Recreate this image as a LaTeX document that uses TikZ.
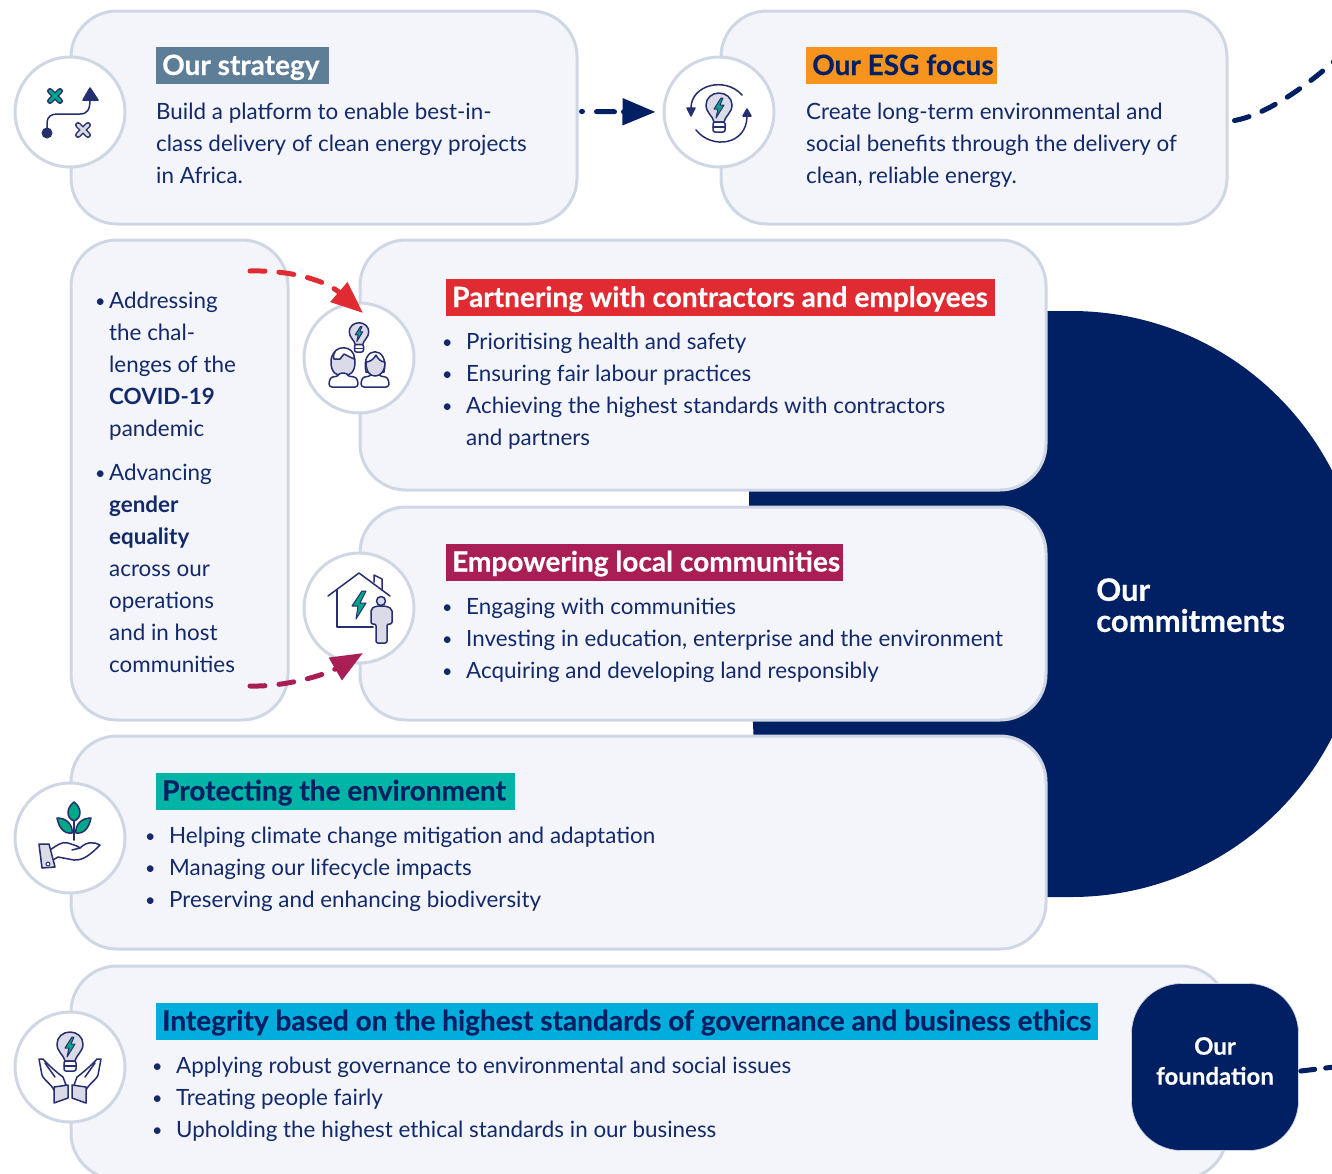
\documentclass[tikz,border=0pt]{standalone}
\usepackage{fontspec}
\setmainfont{Lato}
\newfontfamily\heavy[BoldFeatures={FakeBold=0.35}]{Lato}
\usetikzlibrary{arrows.meta}
\definecolor{navy}{HTML}{002063}
\definecolor{txtblue}{HTML}{12296B}
\definecolor{iconblue}{HTML}{252E6E}
\definecolor{edge}{HTML}{CFD6E4}
\definecolor{panel}{HTML}{F4F5FA}
\definecolor{igray}{HTML}{DADBE6}
\definecolor{igreen}{HTML}{00A887}
\definecolor{cslate}{HTML}{5E7D96}
\definecolor{corange}{HTML}{F7941D}
\definecolor{cred}{HTML}{E02B32}
\definecolor{cwine}{HTML}{A91E54}
\definecolor{cteal}{HTML}{00B5A5}
\definecolor{ccyan}{HTML}{00ADDC}
\newcommand{\bul}[1]{\makebox[#1][l]{\raisebox{1pt}{\scalebox{.8}{•}}}}
\tikzset{
  panelbox/.style={draw=edge,fill=panel,line width=3pt,rounded corners=46pt,inner sep=0pt},
  iconring/.style={circle,draw=edge,fill=white,line width=3pt,minimum size=110pt,inner sep=0pt},
  headbar/.style={anchor=west,inner ysep=0pt,inner xsep=6pt,minimum height=37pt,text height=24pt,text depth=5pt,font=\fontsize{28}{30}\heavy\bfseries\selectfont},
  body/.style={anchor=north west,inner sep=0pt,align=left,text=txtblue,font=\fontsize{22.4}{32}\selectfont,execute at begin node=\strut},
  iconline/.style={draw=iconblue,line width=1.5pt,line join=round,line cap=round},
  flow/.style={line width=5pt,line cap=round,dash pattern=on 15pt off 14pt},
  bulbicon/.pic={
    \path[iconline,fill=igray] (-5,14) .. controls (-6,8) and (-13,5) .. (-13,-3) .. controls (-13,-10) and (-7,-15) .. (0,-15) .. controls (7,-15) and (13,-10) .. (13,-3) .. controls (13,5) and (6,8) .. (5,14) -- cycle;
    \path[iconline,fill=white,rounded corners=2pt] (-6,14) rectangle (6,24);
    \path[iconline] (-6,19) -- (6,19);
    \path[iconline,line width=1pt,fill=igreen] (2,-10) -- (-5,1) -- (-1,1) -- (-3,10) -- (5,-3) -- (1,-3) -- (4,-10) -- cycle;
  },
  handpic/.pic={
    \path[iconline,fill=white] (-31,-8) -- (-27,-8) .. controls (-22,-2) and (-10,8) .. (-7,10) -- (-4,18) -- (-16,23) .. controls (-18,18) and (-27,12) .. (-28,8) -- cycle;
    \path[iconline] (-25,-4) -- (-15,10);
    \path[iconline,fill=igray] (-16,20) -- (-2,18) -- (-2,31) -- (-16,36) -- cycle;
  }
}
\begin{document}
\begin{tikzpicture}[x=1pt,y=-1pt]
\useasboundingbox (0,0) rectangle (1332,1173);
\clip (0,0) rectangle (1332,1173);
% big commitments shape
\fill[navy] (1000,311) -- (1071,311) .. controls (1233,311) and (1364,442) .. (1364,604) .. controls (1364,766) and (1233,897) .. (1071,897) -- (1000,897) -- (754,745) .. controls (751,690) and (749,560) .. (749,480) -- cycle;
% panels
\node[panelbox,minimum width=506pt,minimum height=213pt] (strategybox) at (324,117.5) {};
\node[panelbox,minimum width=506pt,minimum height=213pt] (esgbox) at (974,117.5) {};
\node[panelbox,minimum width=217pt,minimum height=480pt] (listbox) at (179.5,480) {};
\node[panelbox,minimum width=686pt,minimum height=250pt] (partnerbox) at (703,365) {};
\node[panelbox,minimum width=686pt,minimum height=213pt] (communitybox) at (703,613.5) {};
\node[panelbox,minimum width=975pt,minimum height=213pt] (envbox) at (558.5,842.5) {};
\node[panelbox,minimum width=1156pt,minimum height=213pt] (integritybox) at (649,1072.5) {};
% foundation
\node[fill=navy,draw=edge,line width=.6pt,rounded corners=50pt,minimum width=167pt,minimum height=167pt,inner sep=0pt] (foundation) at (1215,1067) {};
\node[inner sep=0pt,text=white,align=center,font=\fontsize{24}{30}\heavy\bfseries\selectfont] (foundationlabel) at (1215,1061) {Our\\foundation};
\node[anchor=north west,inner sep=0pt,align=left,text=white,font=\fontsize{31}{31}\heavy\bfseries\selectfont] (commit) at (1096,578) {Our\\commitments};
% icon rings
\node[iconring] (strategyicon) at (70,112) {};
\node[iconring] (esgicon) at (719,112) {};
\node[iconring] (partnericon) at (359,358) {};
\node[iconring] (communityicon) at (359,608) {};
\node[iconring] (envicon) at (70,838) {};
\node[iconring] (integrityicon) at (70,1067) {};
% headings
\node[headbar,fill=cslate,text=white,minimum width=173pt] (h1) at (156,65.5) {\makebox[161pt][l]{Our strategy}};
\node[headbar,fill=corange,text=navy,minimum width=191pt] (h2) at (806,65.5) {\makebox[179pt][l]{Our ESG focus}};
\node[headbar,fill=cred,text=white,minimum width=549pt] (h3) at (446,297.5) {\makebox[537pt][l]{Partnering with contractors and employees}};
\node[headbar,fill=cwine,text=white,minimum width=397pt] (h4) at (446,562) {\makebox[385pt][l]{Empowering local communities}};
\node[headbar,fill=cteal,text=navy,minimum width=359pt] (h5) at (156,791) {\makebox[347pt][l]{Protecting the environment}};
\node[headbar,fill=ccyan,text=navy,minimum width=942pt] (h6) at (156,1021) {\makebox[930pt][l]{Integrity based on the highest standards of governance and business ethics}};
% body text
\node[body] (t1) at (156,102.5) {Build a platform to enable best-in-\\class delivery of clean energy projects\\in Africa.};
\node[body] (t2) at (806,102.5) {Create long-term environmental and\\social benefits through the delivery of\\clean, reliable energy.};
\node[body] (t3) at (95,291.5) {\bul{14pt}Addressing\\\hspace*{14pt}the chal-\\\hspace*{14pt}lenges of the\\\hspace*{14pt}\textbf{COVID-19}\\\hspace*{14pt}pandemic\\[12pt]\bul{14pt}Advancing\\\hspace*{14pt}\textbf{gender}\\\hspace*{14pt}\textbf{equality}\\\hspace*{14pt}across our\\\hspace*{14pt}operations\\\hspace*{14pt}and in host\\\hspace*{14pt}communities};
\node[body] (t4) at (442,332.5) {\bul{24pt}Prioritising health and safety\\\bul{24pt}Ensuring fair labour practices\\\bul{24pt}Achieving the highest standards with contractors\\\hspace*{24pt}and partners};
\node[body] (t5) at (442,597.5) {\bul{24pt}Engaging with communities\\\bul{24pt}Investing in education, enterprise and the environment\\\bul{24pt}Acquiring and developing land responsibly};
\node[body] (t6) at (145,826.5) {\bul{24pt}Helping climate change mitigation and adaptation\\\bul{24pt}Managing our lifecycle impacts\\\bul{24pt}Preserving and enhancing biodiversity};
\node[body] (t7) at (152,1056.5) {\bul{24pt}Applying robust governance to environmental and social issues\\\bul{24pt}Treating people fairly\\\bul{24pt}Upholding the highest ethical standards in our business};
% strategy icon
\path[iconline] (47,133) -- (47,123) .. controls (47,117) and (51,114) .. (57,114) -- (80,114) .. controls (87,114) and (90,110) .. (90,100);
\fill[iconblue] (47,133) circle (5.5);
\path[iconline,fill=iconblue] (90,88) -- (83,100) -- (98,100) -- cycle;
\draw[iconblue,line width=6pt,line cap=round] (50,91) -- (60,101) (60,91) -- (50,101);
\draw[igreen,line width=3pt,line cap=round] (50,91) -- (60,101) (60,91) -- (50,101);
\draw[iconblue,line width=6pt,line cap=round] (78,125) -- (88,135) (88,125) -- (78,135);
\draw[igray,line width=3pt,line cap=round] (78,125) -- (88,135) (88,125) -- (78,135);
% esg icon
\pic at (719,108) {bulbicon};
\path[iconline] (742,95) .. controls (725,76) and (691,85) .. (691,108);
\path[iconline] (696,130) .. controls (712,150) and (747,145) .. (747,116);
\path[iconline,fill=iconblue] (691,116) -- (687,108) -- (695,108) -- cycle;
\path[iconline,fill=iconblue] (747,109) -- (743,116) -- (751,116) -- cycle;
% partner icon
\pic[scale=.75] at (359,334) {bulbicon};
\path[iconline,fill=igray] (331,362) .. controls (331,344) and (355,344) .. (355,362) .. controls (355,372) and (350,376) .. (343,376) .. controls (336,376) and (331,372) .. (331,362) -- cycle;
\path[iconline,fill=white] (334,359) .. controls (330,344) and (356,344) .. (354,359) -- (344,354) -- (340,359) -- cycle;
\path[iconline,fill=white,rounded corners=3pt] (329,387) -- (329,381) .. controls (332,376) and (337,377) .. (339,373) -- (347,373) .. controls (349,377) and (355,376) .. (358,381) -- (358,387) -- cycle;
\path[iconline,fill=white,rounded corners=3pt] (361,387) -- (361,381) .. controls (364,376) and (369,377) .. (371,373) -- (379,373) .. controls (381,377) and (386,376) .. (389,381) -- (389,387) -- cycle;
\path[iconline,fill=white] (366,372) .. controls (360,345) and (390,345) .. (384,372) -- cycle;
\path[iconline,fill=igray] (366,362) .. controls (370,362) and (374,359) .. (376,355) .. controls (378,359) and (381,362) .. (385,362) .. controls (385,372) and (380,376) .. (375,376) .. controls (370,376) and (366,372) .. (366,362) -- cycle;
% community icon
\path[iconline] (328,596) -- (359,573) -- (390,596);
\path[iconline] (337,590) -- (337,627) -- (373,627);
\path[iconline] (374,582) -- (374,575) -- (382,579) -- (382,590);
\path[iconline,line width=1pt,fill=igreen] (362,591) -- (352,606) -- (358,606) -- (356,619) -- (366,603) -- (360,603) -- (366,591) -- cycle;
\path[iconline,fill=igray,rounded corners=2pt] (371,609) -- (376,606) -- (386,606) -- (392,609) -- (392,624) -- (387,624) -- (387,643) -- (376,643) -- (376,624) -- (371,624) -- cycle;
\path[iconline,fill=igray] (381,601) circle (4.5);
% environment icon
\path[iconline] (74,820) -- (74,840);
\path[iconline,fill=igreen] (74,802) .. controls (66,808) and (66,818) .. (74,821) .. controls (82,818) and (82,808) .. (74,802) -- cycle;
\path[iconline,fill=igreen] (57,818) .. controls (59,828) and (64,834) .. (72,833) .. controls (73,824) and (66,818) .. (57,818) -- cycle;
\path[iconline,fill=igreen] (91,818) .. controls (89,828) and (84,834) .. (76,833) .. controls (75,824) and (82,818) .. (91,818) -- cycle;
\path[iconline] (50,850) .. controls (56,846) and (62,841) .. (68,843) .. controls (74,845) and (78,846) .. (80,848) -- (72,850);
\path[iconline] (80,848) .. controls (87,841) and (95,842) .. (100,845) .. controls (93,852) and (84,861) .. (74,860) -- (58,857) -- (53,860);
\path[iconline,fill=igray] (39,844) -- (49,844) -- (55,867) -- (42,868) -- cycle;
\path[iconline,line width=1pt,fill=white] (48,864) circle (2);
% integrity icon
\pic at (70,1047) {bulbicon};
\pic at (70,1067) {handpic};
\pic[xscale=-1] at (70,1067) {handpic};
% connectors
\coordinate (esgout) at (1340,56);
\coordinate (listred) at (250,271);
\coordinate (redtip) at (363,313);
\coordinate (listwine) at (250,686);
\coordinate (winetip) at (363,653);
\coordinate (foundout) at (1334,1067);
\draw[flow,navy,shorten >=7pt,-{Triangle[length=33pt,width=26pt]},dash pattern=on 1pt off 14pt on 18pt off 9pt on 8pt off 40pt] (strategybox.east) ++(3,-6) -- (esgicon.west);
\draw[flow,navy] (esgbox.east) ++(6,3) .. controls (1265,115) and (1305,88) .. (esgout);
\draw[flow,cred,-{Triangle[length=32pt,width=25pt]}] (listred) .. controls (290,270) and (325,280) .. (redtip);
\draw[flow,cwine,-{Triangle[length=32pt,width=25pt]}] (listwine) .. controls (285,687) and (325,675) .. (winetip);
\draw[flow,navy,dash pattern=on 14pt off 11pt] (foundation.east) ++(2,4) -- (foundout);
\end{tikzpicture}
\end{document}
